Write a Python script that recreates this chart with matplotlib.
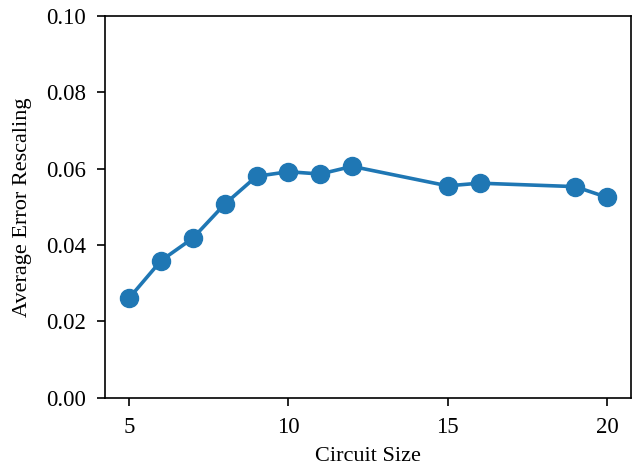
import matplotlib
matplotlib.use('Agg')
import matplotlib.pyplot as plt

"""data read off the reference chart"""
circuit_size = [5, 6, 7, 8, 9, 10, 11, 12, 15, 16, 19, 20]
avg_error_rescaling = [0.0261, 0.0359, 0.0418, 0.0507, 0.0580, 0.0592,
                       0.0586, 0.0606, 0.0555, 0.0562, 0.0553, 0.0525]

plt.rcParams['font.family'] = ['Liberation Serif', 'DejaVu Serif']

fig, ax = plt.subplots(figsize=(6.34, 4.68), dpi=100)
fig.subplots_adjust(left=0.166, right=0.995, top=0.966, bottom=0.150)

ax.plot(circuit_size, avg_error_rescaling, marker='o', color='#1f77b4',
        linewidth=2.6, markersize=13)
ax.set_ylim(0, 0.10)
ax.set_xticks([5, 10, 15, 20])
ax.set_yticks([0.0, 0.02, 0.04, 0.06, 0.08, 0.10])
ax.tick_params(labelsize=16.5, length=6, width=1.2, pad=8)
for s in ax.spines.values():
    s.set_linewidth(1.2)
ax.set_xlabel('Circuit Size', fontsize=16, labelpad=6)
ax.set_ylabel('Average Error Rescaling', fontsize=16, labelpad=10)

fig.savefig('out.png', dpi=100)
